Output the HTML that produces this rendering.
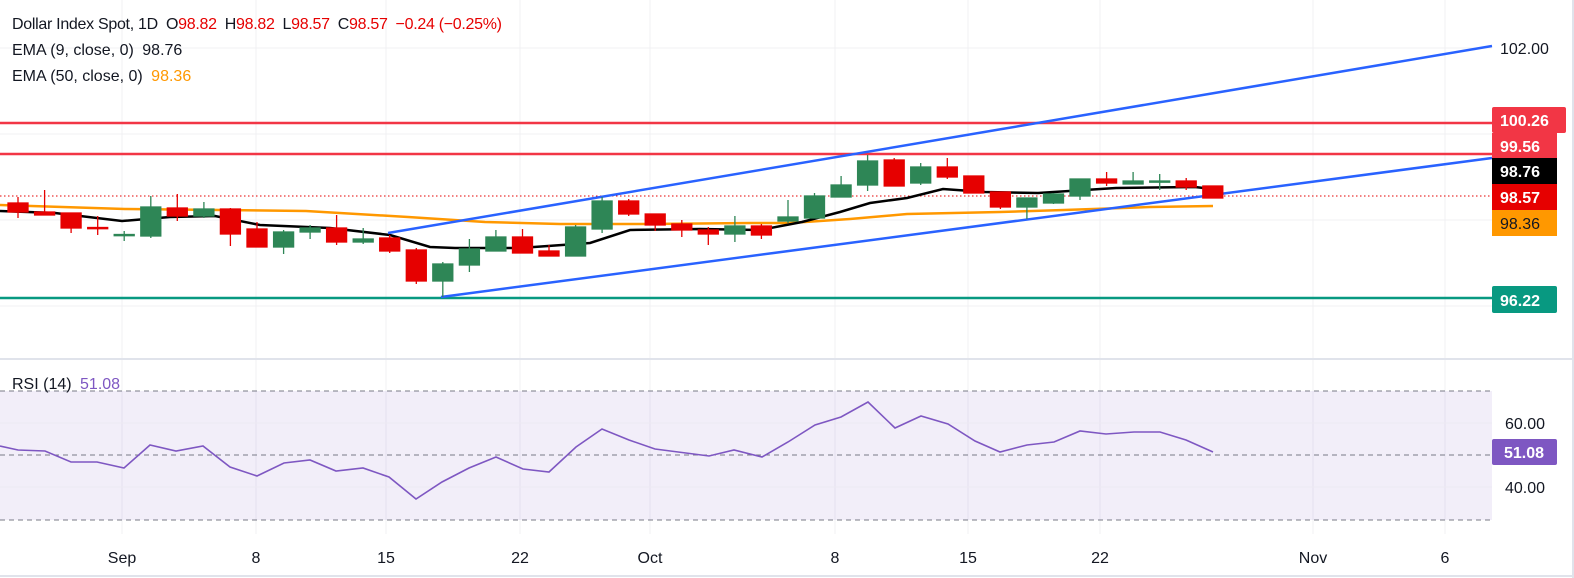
<!DOCTYPE html>
<html><head><meta charset="utf-8"><style>
html,body{margin:0;padding:0;background:#fff;}
svg{display:block;font-family:"Liberation Sans",sans-serif;}
</style></head><body>
<svg width="1574" height="578" viewBox="0 0 1574 578" xmlns="http://www.w3.org/2000/svg">
<rect x="0" y="0" width="1574" height="578" fill="#fff"/>
<g stroke="#f0f0f3" stroke-width="1">
<line x1="122" y1="0" x2="122" y2="534"/><line x1="256" y1="0" x2="256" y2="534"/><line x1="386" y1="0" x2="386" y2="534"/><line x1="520" y1="0" x2="520" y2="534"/><line x1="650" y1="0" x2="650" y2="534"/><line x1="835" y1="0" x2="835" y2="534"/><line x1="968" y1="0" x2="968" y2="534"/><line x1="1100" y1="0" x2="1100" y2="534"/><line x1="1313" y1="0" x2="1313" y2="534"/><line x1="1445" y1="0" x2="1445" y2="534"/>
<line x1="0" y1="48" x2="1492" y2="48"/><line x1="0" y1="134" x2="1492" y2="134"/><line x1="0" y1="220" x2="1492" y2="220"/><line x1="0" y1="306" x2="1492" y2="306"/>
</g>
<line x1="0" y1="359" x2="1574" y2="359" stroke="#e0e3eb" stroke-width="2"/>
<line x1="0" y1="576" x2="1574" y2="576" stroke="#e0e3eb" stroke-width="2"/>
<line x1="1573" y1="0" x2="1573" y2="578" stroke="#e0e3eb" stroke-width="2"/>

<text x="12" y="29" font-size="16" fill="#131722" textLength="490">Dollar Index Spot, 1D <tspan dx="4">O</tspan><tspan fill="#e60000">98.82</tspan><tspan dx="8">H</tspan><tspan fill="#e60000">98.82</tspan><tspan dx="8">L</tspan><tspan fill="#e60000">98.57</tspan><tspan dx="8">C</tspan><tspan fill="#e60000">98.57</tspan><tspan dx="8" fill="#e60000">−0.24 (−0.25%)</tspan></text>
<text x="12" y="55" font-size="16" fill="#131722">EMA (9, close, 0) <tspan dx="4">98.76</tspan></text>
<text x="12" y="81" font-size="16" fill="#131722">EMA (50, close, 0) <tspan dx="4" fill="#ff9800">98.36</tspan></text>

<line x1="0" y1="123" x2="1492" y2="123" stroke="#f23645" stroke-width="2.5"/>
<line x1="0" y1="154" x2="1492" y2="154" stroke="#f23645" stroke-width="2.5"/>
<line x1="0" y1="298" x2="1492" y2="298" stroke="#089981" stroke-width="2.5"/>
<line x1="0" y1="196" x2="1492" y2="196" stroke="#e60000" stroke-width="1" stroke-dasharray="1.5,2.5"/>

<polyline fill="none" stroke="#ff9800" stroke-width="2.5" points="0,205 125,209 306,211 408,217 485,222 560,224 650,224 750,223 790,223 850,219 907,214 1000,212 1064,210 1150,207 1213,206"/>
<polyline fill="none" stroke="#000" stroke-width="2.5" points="0,211 55,213 122,221 170,217 215,216 260,225 330,228 390,235 430,247 455,248 520,248 590,243 630,230 700,229 760,230 802,222 840,212 870,203 907,198 943,189 985,192 1038,193 1116,188 1195,187 1212,189"/>

<line x1="388" y1="233" x2="1492" y2="46" stroke="#2962ff" stroke-width="2.5"/>
<line x1="441" y1="297" x2="1492" y2="158" stroke="#2962ff" stroke-width="2.5"/>

<g stroke-width="1.3">
<g fill="#e60000" stroke="#e60000">
<line x1="18" y1="197" x2="18" y2="218"/><rect x="8" y="203" width="20" height="9"/>
<line x1="44.6" y1="190" x2="44.6" y2="215"/><rect x="34.6" y="212" width="20" height="3"/>
<line x1="71.1" y1="213" x2="71.1" y2="233"/><rect x="61.1" y="213" width="20" height="15"/>
<line x1="97.7" y1="216" x2="97.7" y2="235"/><rect x="87.7" y="227.5" width="20" height="1.2"/>
<line x1="177.3" y1="194" x2="177.3" y2="221"/><rect x="167.3" y="208" width="20" height="8"/>
<line x1="230.4" y1="208" x2="230.4" y2="246"/><rect x="220.4" y="209" width="20" height="25"/>
<line x1="257" y1="222" x2="257" y2="247"/><rect x="247" y="229" width="20" height="18"/>
<line x1="336.6" y1="215" x2="336.6" y2="245"/><rect x="326.6" y="228" width="20" height="14"/>
<line x1="389.7" y1="235" x2="389.7" y2="253"/><rect x="379.7" y="238" width="20" height="13"/>
<line x1="416.3" y1="248" x2="416.3" y2="284"/><rect x="406.3" y="250" width="20" height="31"/>
<line x1="522.5" y1="229" x2="522.5" y2="253"/><rect x="512.5" y="237" width="20" height="16"/>
<line x1="549" y1="245" x2="549" y2="256"/><rect x="539" y="251" width="20" height="5"/>
<line x1="628.7" y1="199" x2="628.7" y2="216"/><rect x="618.7" y="201" width="20" height="13"/>
<line x1="655.2" y1="214" x2="655.2" y2="231"/><rect x="645.2" y="214" width="20" height="11"/>
<line x1="681.8" y1="220" x2="681.8" y2="237"/><rect x="671.8" y="224" width="20" height="6"/>
<line x1="708.3" y1="227" x2="708.3" y2="245"/><rect x="698.3" y="230" width="20" height="4"/>
<line x1="761.4" y1="224" x2="761.4" y2="239"/><rect x="751.4" y="226" width="20" height="9"/>
<line x1="894.2" y1="158" x2="894.2" y2="186"/><rect x="884.2" y="160" width="20" height="26"/>
<line x1="947.3" y1="158" x2="947.3" y2="179"/><rect x="937.3" y="167" width="20" height="10"/>
<line x1="973.8" y1="176" x2="973.8" y2="193"/><rect x="963.8" y="176" width="20" height="17"/>
<line x1="1000.4" y1="192" x2="1000.4" y2="209"/><rect x="990.4" y="192" width="20" height="15"/>
<line x1="1106.6" y1="172" x2="1106.6" y2="186"/><rect x="1096.6" y="179" width="20" height="4"/>
<line x1="1186.2" y1="178" x2="1186.2" y2="190"/><rect x="1176.2" y="181" width="20" height="6"/>
<line x1="1212.8" y1="186" x2="1212.8" y2="198"/><rect x="1202.8" y="186" width="20" height="12"/>
</g>
<g fill="#2e8656" stroke="#2e8656">
<line x1="124.2" y1="231" x2="124.2" y2="241"/><rect x="114.2" y="234.5" width="20" height="1.2"/>
<line x1="150.8" y1="196" x2="150.8" y2="238"/><rect x="140.8" y="207" width="20" height="29"/>
<line x1="203.9" y1="202" x2="203.9" y2="218"/><rect x="193.9" y="209" width="20" height="7"/>
<line x1="283.6" y1="230" x2="283.6" y2="254"/><rect x="273.6" y="232" width="20" height="15"/>
<line x1="310.1" y1="225" x2="310.1" y2="239"/><rect x="300.1" y="228" width="20" height="4"/>
<line x1="363.2" y1="228" x2="363.2" y2="244"/><rect x="353.2" y="239" width="20" height="3"/>
<line x1="442.8" y1="262" x2="442.8" y2="297"/><rect x="432.8" y="264" width="20" height="17"/>
<line x1="469.4" y1="239" x2="469.4" y2="272"/><rect x="459.4" y="249" width="20" height="16"/>
<line x1="495.9" y1="230" x2="495.9" y2="251"/><rect x="485.9" y="237" width="20" height="14"/>
<line x1="575.6" y1="225" x2="575.6" y2="256"/><rect x="565.6" y="227" width="20" height="29"/>
<line x1="602.1" y1="197" x2="602.1" y2="233"/><rect x="592.1" y="201" width="20" height="28"/>
<line x1="734.9" y1="216" x2="734.9" y2="242"/><rect x="724.9" y="226" width="20" height="8"/>
<line x1="788" y1="200" x2="788" y2="223"/><rect x="778" y="217" width="20" height="4"/>
<line x1="814.5" y1="193" x2="814.5" y2="218"/><rect x="804.5" y="196" width="20" height="22"/>
<line x1="841.1" y1="176" x2="841.1" y2="197"/><rect x="831.1" y="185" width="20" height="12"/>
<line x1="867.6" y1="155" x2="867.6" y2="191"/><rect x="857.6" y="161" width="20" height="24"/>
<line x1="920.7" y1="163" x2="920.7" y2="185"/><rect x="910.7" y="167" width="20" height="16"/>
<line x1="1026.9" y1="198" x2="1026.9" y2="219"/><rect x="1016.9" y="198" width="20" height="9"/>
<line x1="1053.5" y1="193" x2="1053.5" y2="204"/><rect x="1043.5" y="194" width="20" height="9"/>
<line x1="1080" y1="179" x2="1080" y2="200"/><rect x="1070" y="179" width="20" height="17"/>
<line x1="1133.1" y1="172" x2="1133.1" y2="184"/><rect x="1123.1" y="181" width="20" height="3"/>
<line x1="1159.7" y1="174" x2="1159.7" y2="190"/><rect x="1149.7" y="181" width="20" height="1.2"/>
</g>
</g>

<g font-size="16">
<text x="1500" y="54" fill="#131722">102.00</text>
<text x="1500" y="312" fill="#131722">96.00</text>
<rect x="1492" y="107" width="74" height="26" rx="2" fill="#f23645"/><text x="1500" y="126" fill="#fff" font-weight="bold">100.26</text>
<rect x="1492" y="133" width="65" height="25" fill="#f23645"/><text x="1500" y="152" fill="#fff" font-weight="bold">99.56</text>
<rect x="1492" y="158" width="65" height="26" fill="#000"/><text x="1500" y="177" fill="#fff" font-weight="bold">98.76</text>
<rect x="1492" y="184" width="65" height="26" fill="#e60000"/><text x="1500" y="203" fill="#fff" font-weight="bold">98.57</text>
<rect x="1492" y="210" width="65" height="26" fill="#ff9800"/><text x="1500" y="229" fill="#131722">98.36</text>
<rect x="1492" y="286" width="65" height="27" rx="2" fill="#089981"/><text x="1500" y="306" fill="#fff" font-weight="bold">96.22</text>
</g>

<rect x="0" y="391" width="1492" height="129" fill="#7e57c2" fill-opacity="0.1"/>
<g stroke="#ece9f3"><line x1="0" y1="423" x2="1492" y2="423"/><line x1="0" y1="487" x2="1492" y2="487"/></g>
<g stroke="#787b86" stroke-dasharray="5,4" stroke-width="1"><line x1="0" y1="391" x2="1492" y2="391"/><line x1="0" y1="455" x2="1492" y2="455"/><line x1="0" y1="520" x2="1492" y2="520"/></g>
<polyline fill="none" stroke="#7e57c2" stroke-width="1.6" points="0,446 18,450 45,451 71,462 97,462 124,468 150,445 176,451 203,446 230,467 257,476 284,463 310,460 336,471 363,468 389,477 416,499 442,482 469,468 496,457 523,469 549,472 576,447 602,429 629,440 655,449 709,456 734,450 762,457 788,442 815,425 841,417 868,402 895,428 921,416 948,424 975,441 1000,452 1027,445 1054,442 1080,431 1106,434 1134,432 1160,432 1186,440 1213,452"/>
<text x="12" y="389" font-size="16" fill="#131722">RSI (14) <tspan dx="4" fill="#7e57c2">51.08</tspan></text>
<text x="1505" y="429" font-size="16" fill="#131722">60.00</text>
<text x="1505" y="493" font-size="16" fill="#131722">40.00</text>
<rect x="1492" y="439" width="65" height="26" rx="2" fill="#7e57c2"/><text x="1504" y="458" font-size="16" fill="#fff" font-weight="bold">51.08</text>

<g font-size="16" fill="#131722" text-anchor="middle">
<text x="122" y="563">Sep</text><text x="256" y="563">8</text><text x="386" y="563">15</text><text x="520" y="563">22</text><text x="650" y="563">Oct</text><text x="835" y="563">8</text><text x="968" y="563">15</text><text x="1100" y="563">22</text><text x="1313" y="563">Nov</text><text x="1445" y="563">6</text>
</g>
</svg>
</body></html>
